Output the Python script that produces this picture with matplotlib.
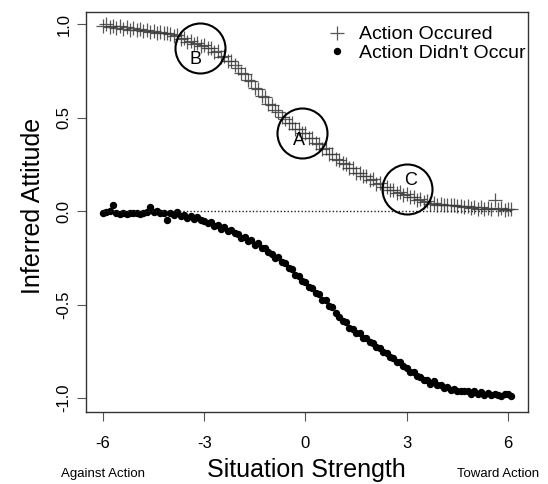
import numpy as np
import matplotlib
matplotlib.use("Agg")
import matplotlib.pyplot as plt

plt.rcParams['font.family'] = ['Liberation Sans', 'DejaVu Sans']

# situation strength grid, -6.0 .. 6.1 in steps of 0.1
strength = np.arange(-60, 62) / 10

# inferred attitude when the action occured (+)
occurred = [
    0.99, 1.00, 0.985, 0.99, 0.98, 0.99, 0.975, 0.985, 0.97, 0.98,
    0.97, 0.975, 0.965, 0.97, 0.96, 0.965, 0.955, 0.96, 0.95, 0.955,
    0.945, 0.935, 0.94, 0.92, 0.925, 0.905, 0.91, 0.895, 0.90, 0.885,
    0.89, 0.87, 0.87, 0.85, 0.855, 0.825, 0.83, 0.805, 0.805, 0.78,
    0.765, 0.74, 0.735, 0.70, 0.695, 0.66, 0.655, 0.615, 0.61, 0.575,
    0.565, 0.54, 0.53, 0.505, 0.495, 0.47, 0.47, 0.44, 0.44, 0.415,
    0.415, 0.39, 0.39, 0.365, 0.36, 0.33, 0.335, 0.305, 0.305, 0.28,
    0.275, 0.255, 0.25, 0.23, 0.23, 0.205, 0.205, 0.185, 0.185, 0.165,
    0.17, 0.145, 0.15, 0.13, 0.13, 0.115, 0.115, 0.095, 0.10, 0.085,
    0.09, 0.075, 0.075, 0.06, 0.065, 0.05, 0.055, 0.04, 0.045, 0.035,
    0.04, 0.035, 0.035, 0.03, 0.03, 0.025, 0.025, 0.02, 0.025, 0.015,
    0.02, 0.01, 0.02, 0.01, 0.015, 0.01, 0.06, 0.01, 0.015, 0.005,
    0.01, 0.01,
]

# inferred attitude when the action didn't occur (dots)
not_occurred = [
    -0.01, -0.005, 0.0, 0.03, -0.01, -0.015, -0.01, -0.015, -0.01, -0.01,
    -0.01, -0.015, -0.01, -0.005, 0.02, -0.005, 0.0, -0.01, -0.01, -0.05,
    -0.01, -0.02, -0.005, -0.025, -0.02, -0.035, -0.025, -0.045, -0.03, -0.05,
    -0.055, -0.065, -0.06, -0.08, -0.075, -0.095, -0.085, -0.105, -0.10, -0.12,
    -0.125, -0.145, -0.14, -0.16, -0.155, -0.18, -0.17, -0.20, -0.195, -0.22,
    -0.23, -0.25, -0.245, -0.275, -0.28, -0.305, -0.31, -0.34, -0.345, -0.375,
    -0.38, -0.405, -0.41, -0.44, -0.445, -0.475, -0.475, -0.51, -0.515, -0.545,
    -0.565, -0.59, -0.595, -0.625, -0.63, -0.655, -0.655, -0.68, -0.68, -0.70,
    -0.705, -0.725, -0.73, -0.755, -0.76, -0.78, -0.785, -0.805, -0.81, -0.83,
    -0.84, -0.86, -0.86, -0.885, -0.89, -0.905, -0.905, -0.925, -0.91, -0.93,
    -0.93, -0.945, -0.94, -0.955, -0.95, -0.965, -0.96, -0.965, -0.965, -0.98,
    -0.965, -0.98, -0.97, -0.985, -0.975, -0.985, -0.98, -0.985, -0.99, -0.98,
    -0.98, -0.99,
]

# circled regions and their letters
circle_x = [-3.13, -0.09, 3.02]
circle_y = [0.87, 0.42, 0.12]
letters = ['B', 'A', 'C']
letter_x = [-3.27, -0.19, 3.1]
letter_y = [0.81, 0.38, 0.166]

xticks = [-6, -3, 0, 3, 6]
yticks = [-1.0, -0.5, 0.0, 0.5, 1.0]

fig = plt.figure(figsize=(5.48, 4.84), dpi=100)
ax = fig.add_axes([86 / 548, 72 / 484, 442 / 548, 400 / 484])

ax.plot(strength, occurred, ls='none', marker='+', ms=9.5, mew=0.9,
        color='#3a3a3a', alpha=0.85, label='Action Occured')
ax.plot(strength, not_occurred, ls='none', marker='o', ms=4.3,
        color='black', label="Action Didn't Occur")
ax.plot([strength[0], strength[-1]], [0, 0], ls=(0, (1, 1.5)), lw=1, color='#222222')

ax.plot(circle_x, circle_y, ls='none', marker='o', ms=36, mfc='none',
        mec='black', mew=1.5)
for lx, ly, lab in zip(letter_x, letter_y, letters):
    ax.text(lx, ly, lab, fontsize=13, ha='center', va='center')

ax.set_xlim(-6.5, 6.59)
ax.set_ylim(-1.075, 1.065)
ax.set_xticks(xticks)
ax.set_xticklabels([str(t) for t in xticks])
ax.set_yticks(yticks)
ax.set_yticklabels(['%.1f' % t for t in yticks], rotation=90, va='center')
ax.tick_params(axis='both', labelsize=12, length=6.5, color='#555555')
ax.tick_params(axis='x', pad=11)
ax.tick_params(axis='y', pad=4)
for s in ax.spines.values():
    s.set_color('#333333')
    s.set_linewidth(1)

ax.set_xlabel('Situation Strength', fontsize=18, va='center')
ax.xaxis.set_label_coords((306 - 86) / 442, (412 - 470) / 400)
ax.set_ylabel('Inferred Attitude', fontsize=18, va='center', ha='center')
ax.yaxis.set_label_coords((33 - 86) / 442, (412 - 206) / 400)

fig.text(103 / 548, 1 - 474 / 484, 'Against Action', fontsize=9.5,
         ha='center', va='center')
fig.text(498 / 548, 1 - 474 / 484, 'Toward Action', fontsize=9.5,
         ha='center', va='center')

ax.legend(loc='upper right', bbox_to_anchor=(1.007, 0.98), frameon=False,
          fontsize=14, handlelength=1.0, handletextpad=0.6,
          labelspacing=0.05, borderaxespad=0.1, borderpad=0.2)

fig.savefig('out.png', dpi=100)
